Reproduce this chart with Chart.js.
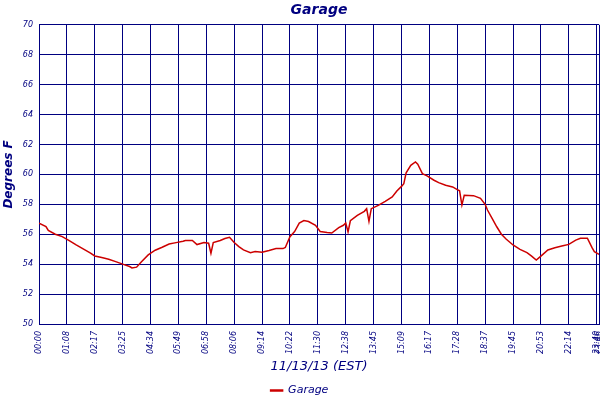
<!DOCTYPE html>
<html><head><meta charset="utf-8">
<script src="https://cdn.jsdelivr.net/npm/chart.js@4.4.0/dist/chart.umd.min.js"></script>
<style>html,body{margin:0;padding:0;background:#fff}</style>
</head><body>
<canvas id="c" width="600" height="400"></canvas>
<script>
// sample number of each reading (12 samples between labelled ticks)
const sampleIdx = [0,3,4,7,10,13,16,19,22,24,27,30,33,36,39,40,42,44,47,50,53,56,59,62,
  63,66,68,71,73,74,75,78,80,82,84,86,88,91,93,96,99,102,105,106,108,110,112,114,116,119,121,124,
  126,129,131,132,133,134,137,140,141,142,143,146,149,152,154,156,157,158,160,162,163,165,167,170,172,175,178,180,
  181,182,183,187,190,192,193,195,197,199,201,204,207,210,212,214,216,219,222,225,228,231,233,236,238,239,241];
// temperature in degrees F
const temps = [56.74,56.51,56.25,56.0,55.84,55.58,55.29,55.02,54.75,54.55,54.44,54.33,54.17,54.0,53.84,53.75,53.8,54.15,54.62,54.93,55.13,55.35,55.44,55.53,
  55.58,55.58,55.31,55.44,55.4,54.73,55.44,55.58,55.71,55.8,55.45,55.17,54.95,54.77,54.84,54.8,54.91,55.04,55.04,55.11,55.84,56.18,56.74,56.91,56.85,56.6,56.18,56.11,
  56.08,56.44,56.6,56.75,56.15,56.9,57.26,57.53,57.71,56.86,57.71,57.93,58.2,58.49,58.89,59.2,59.38,60.1,60.61,60.83,60.68,60.05,59.9,59.61,59.45,59.27,59.16,58.98,
  58.9,57.95,58.6,58.58,58.4,58.0,57.62,57.06,56.5,56.0,55.68,55.28,54.99,54.77,54.54,54.28,54.54,54.95,55.1,55.21,55.32,55.61,55.73,55.73,55.1,54.83,54.65];
const tickIdx = [0,12,24,36,48,60,72,84,96,108,120,132,144,156,168,180,192,204,216,228,240,241];
const tickLabels = ['00:00','01:08','02:17','03:25','04:34','05:49','06:58','08:06','09:14','10:22','11:30',
  '12:38','13:45','15:09','16:17','17:28','18:37','19:45','20:53','22:14','23:40','23:46'];
const yTicks = [50,52,54,56,58,60,62,64,66,68,70];

const NAVY = '#000080';
const F = 'DejaVu Sans';

new Chart(document.getElementById('c'), {
  type: 'line',
  data: {
    datasets: [{
      label: 'Garage',
      data: sampleIdx.map((s, i) => ({x: s, y: temps[i]})),
      borderColor: '#cc0000',
      backgroundColor: '#cc0000',
      borderWidth: 1.5,
      pointRadius: 0,
      tension: 0,
      fill: false
    }]
  },
  options: {
    responsive: false,
    animation: false,
    devicePixelRatio: 1,
    layout: {padding: {left: 0, right: 1, top: 0, bottom: -6}},
    plugins: {
      title: {
        display: true, text: 'Garage', fullSize: false, color: NAVY,
        font: {family: F, size: 14, weight: 'bold', style: 'italic'},
        padding: {top: 2, bottom: 6}
      },
      legend: {
        position: 'bottom',
        labels: {boxWidth: 12, boxHeight: 1, padding: 5, color: NAVY,
          font: {family: F, size: 11, style: 'italic'}}
      },
      tooltip: {enabled: false}
    },
    scales: {
      x: {
        type: 'linear', min: 0, max: 241,
        afterBuildTicks: s => { s.ticks = tickIdx.map(v => ({value: v})); },
        ticks: {
          autoSkip: false, minRotation: 90, maxRotation: 90, padding: 7, color: NAVY,
          font: {family: F, size: 8, style: 'italic'},
          callback: (v, i) => tickLabels[i]
        },
        grid: {color: NAVY, drawTicks: false, lineWidth: 1},
        border: {color: NAVY},
        title: {display: true, text: '11/13/13 (EST)', color: NAVY,
          font: {family: F, size: 13, style: 'italic'}, padding: {top: 0, bottom: 6}},
        afterFit: s => { s.height = 56; s.paddingLeft = 0; s.paddingRight = 0; }
      },
      y: {
        min: 50, max: 70,
        afterBuildTicks: s => { s.ticks = yTicks.map(v => ({value: v})); },
        ticks: {padding: 6, color: NAVY, font: {family: F, size: 8, style: 'italic'}},
        grid: {color: NAVY, drawTicks: false, lineWidth: 1},
        border: {color: NAVY},
        title: {display: true, text: 'Degrees F', color: NAVY,
          font: {family: F, size: 12, weight: 'bold', style: 'italic'}, padding: {top: 2, bottom: 0}},
        afterFit: s => { s.width = 39; }
      }
    }
  }
});
</script>
</body></html>
